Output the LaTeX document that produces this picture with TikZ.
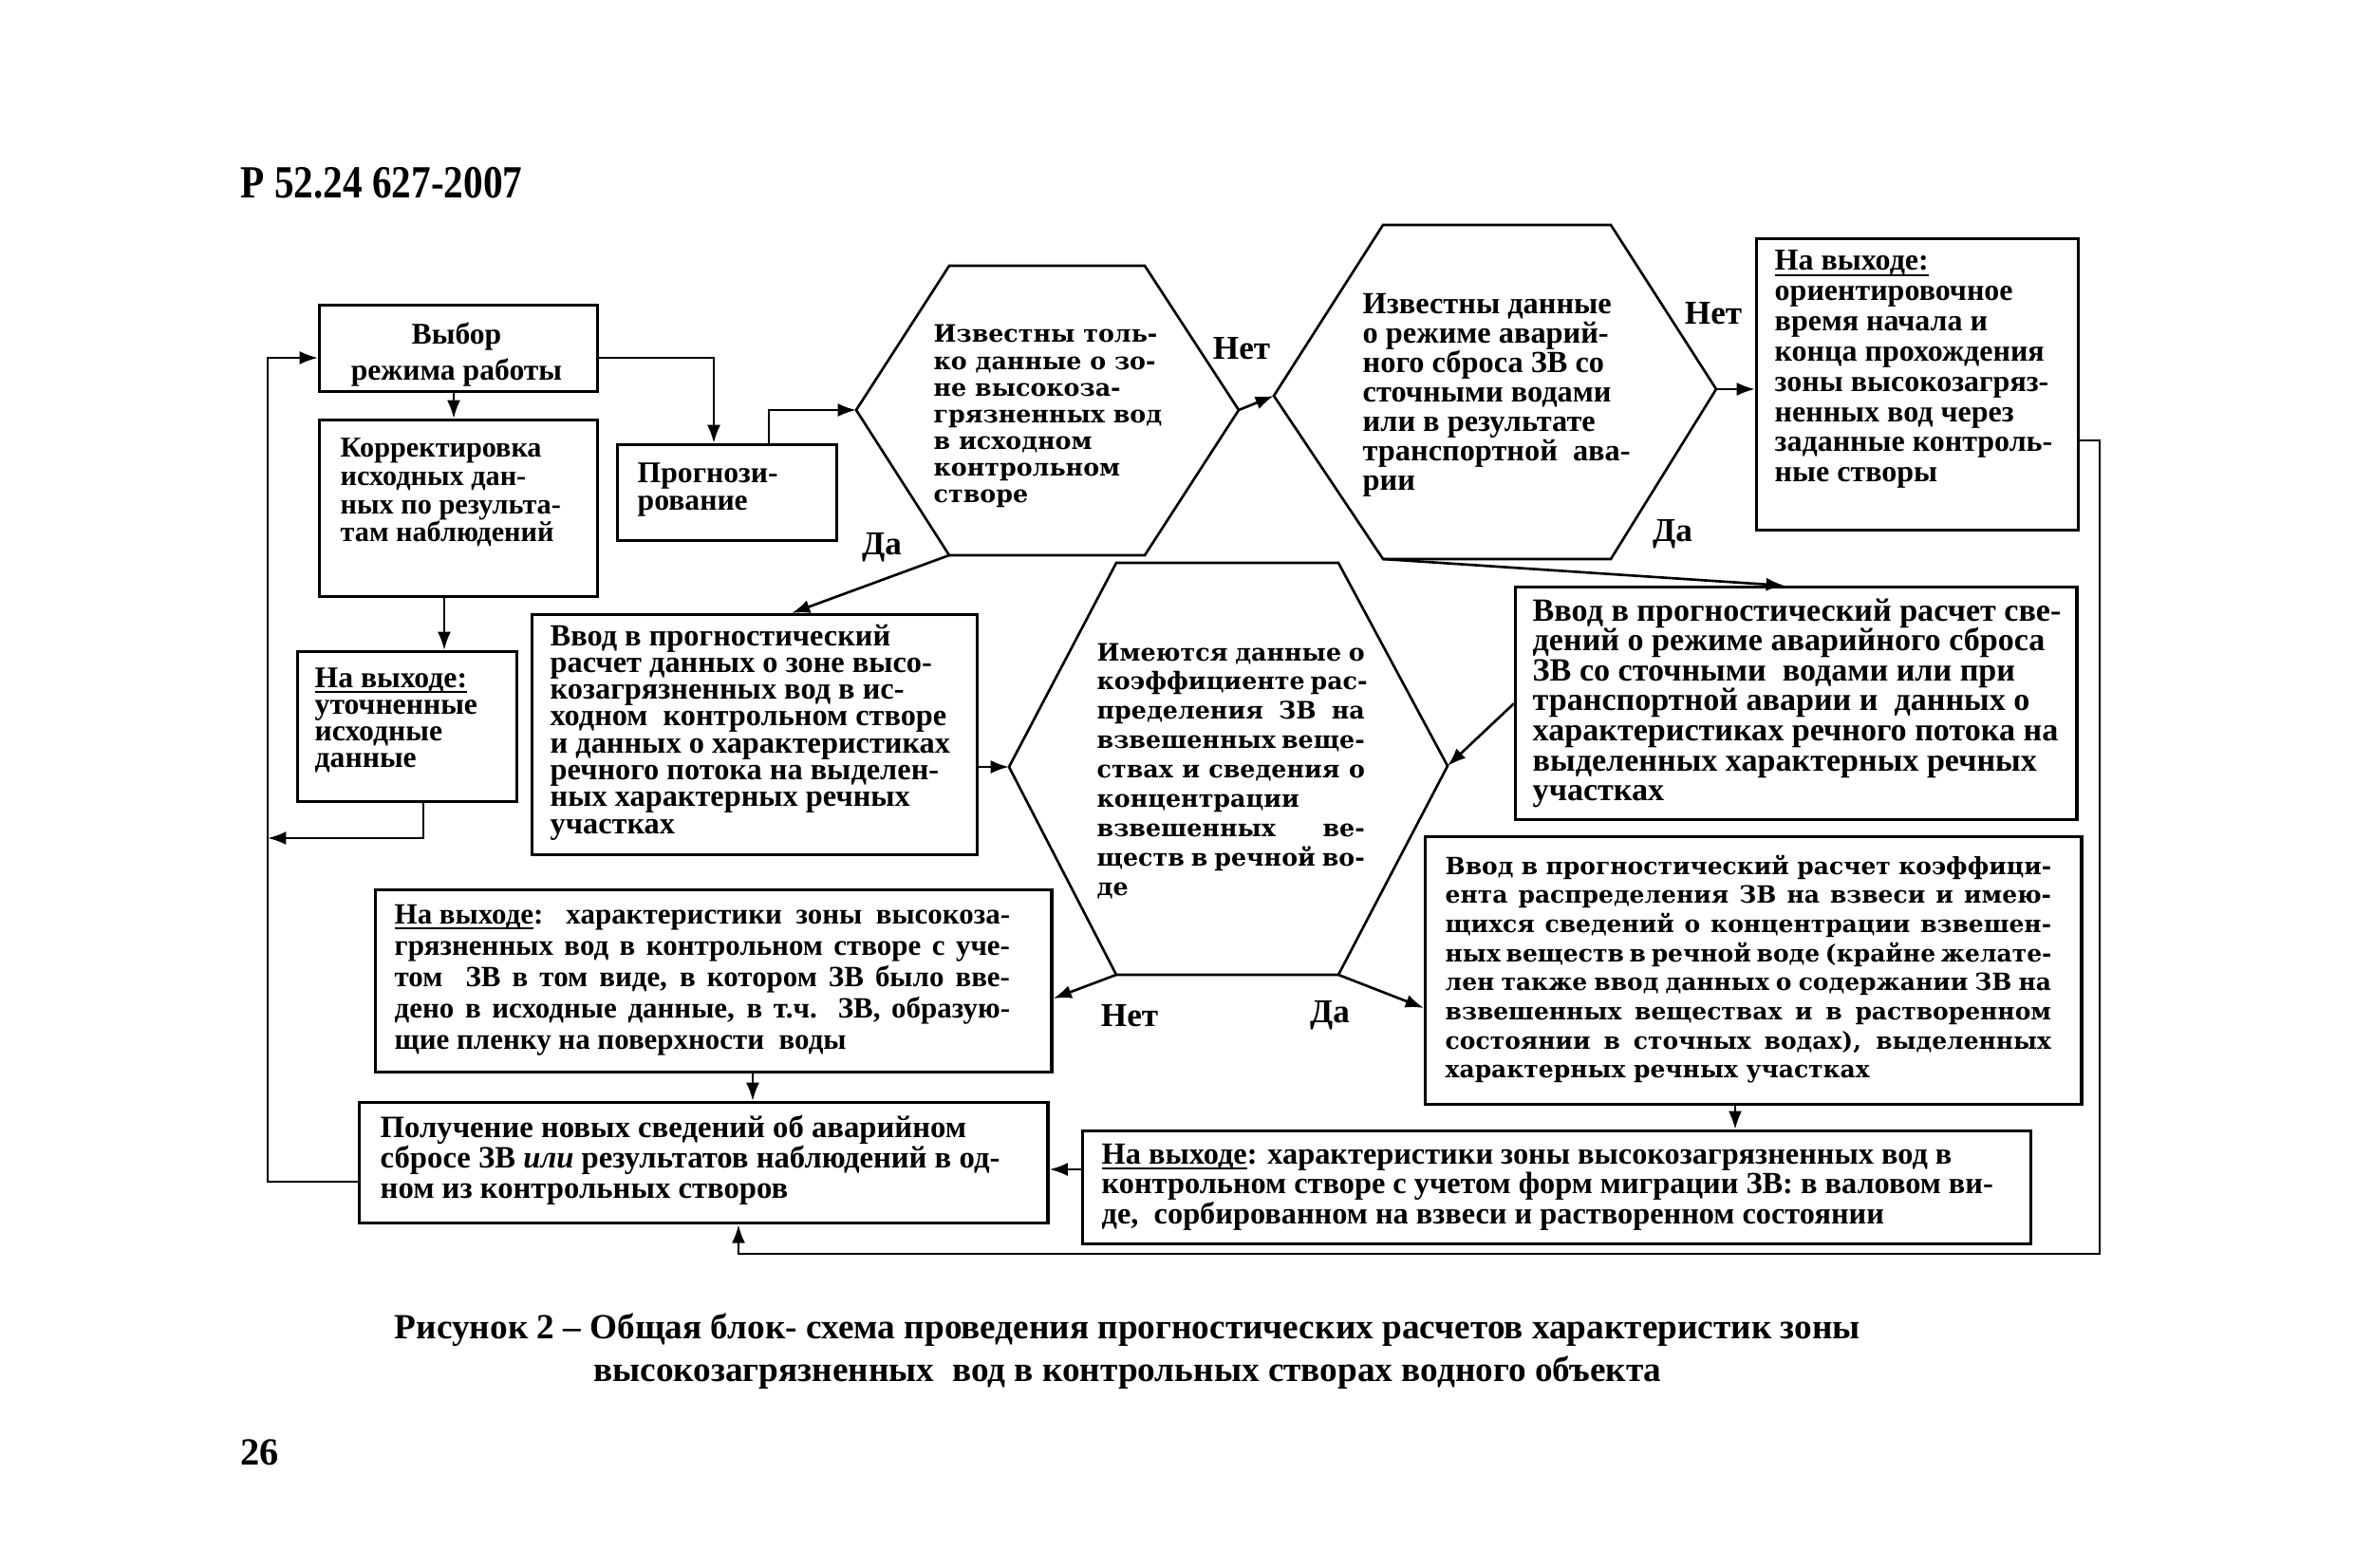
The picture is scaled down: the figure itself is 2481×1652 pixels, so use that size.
\documentclass[tikz,border=0pt]{standalone}
\usepackage{fontspec}
\setmainfont{Liberation Serif}
\newfontfamily\dvs{DejaVu Serif}
\newfontfamily\condf[FakeStretch=0.85]{Liberation Serif}
\usetikzlibrary{arrows.meta}
\newcommand\txtl[1]{\vtop{\halign{##\hfil\cr#1\crcr}}}
\newcommand\txtc[1]{\vtop{\halign{\hfil##\hfil\cr#1\crcr}}}
\newcommand\fz[2]{\fontsize{#1}{#2}\selectfont\lineskiplimit=-30pt\relax}
\newcommand\jl[2]{\makebox[#1][s]{#2}}
\newcommand\ul[1]{\setbox0\hbox{#1}\rlap{\rule[-1.7pt]{\wd0}{0.55pt}}\box0}
\tikzset{
  box/.style={draw, line width=0.9pt, inner sep=0pt, anchor=north west},
  hexline/.style={draw, line width=0.75pt, line join=miter},
  conn/.style={line width=0.75pt},
  arr/.style={conn, -{Latex[length=5.5pt,width=4pt]}},
  tx/.style={inner sep=0pt, anchor=base west},
  lab/.style={inner sep=0pt, font=\bfseries\fz{10pt}{10pt}},
}
\begin{document}
\begin{tikzpicture}[x=0.01cm,y=-0.01cm]
\path[use as bounding box, fill=white] (0,0) rectangle (2481,1652);

% ---------- boxes ----------
\node[box, minimum width=2.93cm, minimum height=0.91cm] (vyb) at (335,320) {};
\node[box, minimum width=2.93cm, minimum height=1.86cm] (korr) at (335,441) {};
\node[box, minimum width=2.31cm, minimum height=1.58cm] (utoch) at (312,685) {};
\node[box, minimum width=2.31cm, minimum height=1.01cm] (prog) at (649,467) {};
\node[box, minimum width=3.39cm, minimum height=3.07cm] (out1) at (1849,250) {};
\node[box, minimum width=4.69cm, minimum height=2.53cm] (vvA) at (559,646) {};
\node[box, minimum width=5.91cm, minimum height=2.45cm] (vvB) at (1595,617) {};
\node[box, minimum width=6.91cm, minimum height=2.82cm] (vvC) at (1500,880) {};
\node[box, minimum width=7.12cm, minimum height=1.92cm] (out2) at (394,936) {};
\node[box, minimum width=7.25cm, minimum height=1.27cm] (pol) at (377,1160) {};
\node[box, minimum width=9.98cm, minimum height=1.19cm] (out3) at (1139,1190) {};

% ---------- hexagons ----------
\coordinate (h1L) at (902,432);  \coordinate (h1TL) at (1000,280); \coordinate (h1TR) at (1206,280);
\coordinate (h1R) at (1305,432); \coordinate (h1BR) at (1206,585); \coordinate (h1BL) at (1000,585);
\coordinate (h2L) at (1342,417); \coordinate (h2TL) at (1457,237); \coordinate (h2TR) at (1697,237);
\coordinate (h2R) at (1808,410); \coordinate (h2BR) at (1697,589); \coordinate (h2BL) at (1457,589);
\coordinate (h3L) at (1063,808); \coordinate (h3TL) at (1176,593); \coordinate (h3TR) at (1410,593);
\coordinate (h3R) at (1525,807); \coordinate (h3BR) at (1410,1027); \coordinate (h3BL) at (1176,1027);
\draw[hexline] (h1L) -- (h1TL) -- (h1TR) -- (h1R) -- (h1BR) -- (h1BL) -- cycle;
\draw[hexline] (h2L) -- (h2TL) -- (h2TR) -- (h2R) -- (h2BR) -- (h2BL) -- cycle;
\draw[hexline] (h3L) -- (h3TL) -- (h3TR) -- (h3R) -- (h3BR) -- (h3BL) -- cycle;

% ---------- texts ----------
\node[tx, anchor=base, font=\bfseries\fz{9pt}{10.8pt}] (tvyb) at (481,363) {\txtc{Выбор\cr режима работы}};
\node[tx, font=\bfseries\fz{8.6pt}{8.4pt}] (tkorr) at (358,482) {\txtl{Корректировка\cr исходных дан-\cr ных по результа-\cr там наблюдений}};
\node[tx, font=\bfseries\fz{9pt}{8pt}] (tutoch) at (331,724) {\txtl{\ul{На выходе:}\cr уточненные\cr исходные\cr данные}};
\node[tx, font=\bfseries\fz{9pt}{8pt}] (tprog) at (671,509) {\txtl{Прогнози-\cr рование}};
\node[tx, font=\dvs\bfseries\fz{7.2pt}{8pt}] (th1) at (983,361) {\txtl{Известны толь-\cr ко данные о зо-\cr не высокоза-\cr грязненных вод\cr в исходном\cr контрольном\cr створе}};
\node[tx, font=\bfseries\fz{9.2pt}{8.8pt}] (th2) at (1435,331) {\txtl{Известны данные\cr о режиме аварий-\cr ного сброса ЗВ со\cr сточными водами\cr или в результате\cr транспортной\ \ ава-\cr рии}};
\node[tx, font=\bfseries\fz{9.1pt}{9.05pt}] (tout1) at (1869,285) {\txtl{\ul{На выходе:}\cr ориентировочное\cr время начала и\cr конца прохождения\cr зоны высокозагряз-\cr ненных вод через\cr заданные контроль-\cr ные створы}};
\node[tx, font=\bfseries\fz{9.2pt}{8.05pt}] (tvvA) at (579,680) {\txtl{Ввод в прогностический\cr расчет данных о зоне высо-\cr козагрязненных вод в ис-\cr ходном\ \ контрольном створе\cr и данных о характеристиках\cr речного потока на выделен-\cr ных характерных речных\cr участках}};
\node[tx, font=\dvs\bfseries\fz{7.2pt}{8.8pt}] (th3) at (1155,696) {\txtl{\jl{2.82cm}{Имеются данные о}\cr \jl{2.82cm}{коэффициенте рас-}\cr \jl{2.82cm}{пределения ЗВ на}\cr \jl{2.82cm}{взвешенных веще-}\cr \jl{2.82cm}{ствах и сведения о}\cr концентрации\cr \jl{2.82cm}{взвешенных ве-}\cr \jl{2.82cm}{ществ в речной во-}\cr де}};
\node[tx, font=\bfseries\fz{9.7pt}{9pt}] (tvvB) at (1614,654) {\txtl{Ввод в прогностический расчет све-\cr дений о режиме аварийного сброса\cr ЗВ со сточными\ \ водами или при\cr транспортной аварии и\ \ данных о\cr характеристиках речного потока на\cr выделенных характерных речных\cr участках}};
\node[tx, font=\dvs\bfseries\fz{7.1pt}{8.73pt}] (tvvC) at (1522,921) {\txtl{\jl{6.38cm}{Ввод в прогностический расчет коэффици-}\cr \jl{6.38cm}{ента распределения ЗВ на взвеси и имею-}\cr \jl{6.38cm}{щихся сведений о концентрации взвешен-}\cr \jl{6.38cm}{ных веществ в речной воде (крайне желате-}\cr \jl{6.38cm}{лен также ввод данных о содержании ЗВ на}\cr \jl{6.38cm}{взвешенных веществах и в растворенном}\cr \jl{6.38cm}{состоянии в сточных водах), выделенных}\cr характерных речных участках}};
\node[tx, font=\bfseries\fz{8.8pt}{9.4pt}] (tout2) at (415,973) {\txtl{\jl{6.48cm}{\ul{На выходе}: характеристики зоны высокоза-}\cr \jl{6.48cm}{грязненных вод в контрольном створе с уче-}\cr \jl{6.48cm}{том\ \ ЗВ в том виде, в котором ЗВ было вве-}\cr \jl{6.48cm}{дено в исходные данные, в т.ч. ЗВ, образую-}\cr щие пленку на поверхности\ \ воды}};
\node[tx, font=\bfseries\fz{9.3pt}{9.1pt}] (tpol) at (400,1198) {\txtl{Получение новых сведений об аварийном\cr сбросе ЗВ \textit{или} результатов наблюдений в од-\cr ном из контрольных створов}};
\node[tx, font=\bfseries\fz{9.2pt}{9pt}] (tout3) at (1160,1226) {\txtl{\ul{На выходе}: характеристики зоны высокозагрязненных вод в\cr контрольном створе с учетом форм миграции ЗВ: в валовом ви-\cr де,\ \ сорбированном на взвеси и растворенном состоянии}};

\node[tx, font=\condf\bfseries\fz{13.8pt}{13.8pt}] (head) at (253,209) {Р 52.24 627-2007};
\node[tx, anchor=base, font=\bfseries\fz{10.6pt}{12.8pt}] (cap) at (1188,1410) {\txtc{Рисунок 2 – Общая блок- схема проведения прогностических расчетов характеристик зоны\cr высокозагрязненных\ \ вод в контрольных створах водного объекта}};
\node[tx, font=\bfseries\fz{11.5pt}{11.5pt}] (pnum) at (253,1543) {26};

% ---------- labels ----------
\node[lab] (n1) at (1308,367) {Нет};
\node[lab] (n2) at (1805,330) {Нет};
\node[lab] (d1) at (929,577) {Да};
\node[lab] (d2) at (1762,563) {Да};
\node[lab] (n3) at (1190,1070) {Нет};
\node[lab] (d3) at (1401,1070) {Да};

% ---------- connectors ----------
\coordinate (fbB) at (282,1245); \coordinate (fbT) at (282,377);
\draw[arr] (pol.west |- fbB) -- (fbB) -- (fbT) -- (vyb.west |- fbT);
\coordinate (u1) at (446,883);
\draw[arr] (utoch.south -| u1) -- (u1) -- (u1 -| fbB);
\coordinate (k1) at (478,0); \coordinate (k2) at (468,0);
\draw[arr] (vyb.south -| k1) -- (korr.north -| k1);
\draw[arr] (korr.south -| k2) -- (utoch.north -| k2);
\coordinate (p1) at (752,377);
\draw[arr] (vyb.east |- p1) -- (p1) -- (prog.north -| p1);
\coordinate (p2) at (810,432);
\draw[arr] (prog.north -| p2) -- (p2) -- (h1L);
\draw[arr] (h1R) -- (h2L);
\draw[arr] (h2R) -- (out1.west |- h2R);
\coordinate (a1) at (834,0);
\draw[arr] (h1BL) -- (vvA.north -| a1);
\coordinate (b1) at (1880,0);
\draw[arr] (h2BL) -- (vvB.north -| b1);
\draw[arr] (vvA.east |- h3L) -- (h3L);
\draw[arr] (vvB.west) -- (h3R);
\coordinate (e3) at (0,1052);
\draw[arr] (h3BL) -- (out2.east |- e3);
\coordinate (e4) at (0,1062);
\draw[arr] (h3BR) -- (vvC.west |- e4);
\coordinate (c1x) at (1828,0);
\draw[arr] (vvC.south -| c1x) -- (out3.north -| c1x);
\coordinate (e1) at (0,1232);
\draw[arr] (out3.west |- e1) -- (pol.east |- e1);
\coordinate (f1) at (793,0);
\draw[arr] (out2.south -| f1) -- (pol.north -| f1);
\coordinate (r1) at (2212,464); \coordinate (r2) at (2212,1321); \coordinate (r3) at (778,1321);
\draw[arr] (out1.east |- r1) -- (r1) -- (r2) -- (r3) -- (pol.south -| r3);
\end{tikzpicture}
\end{document}
